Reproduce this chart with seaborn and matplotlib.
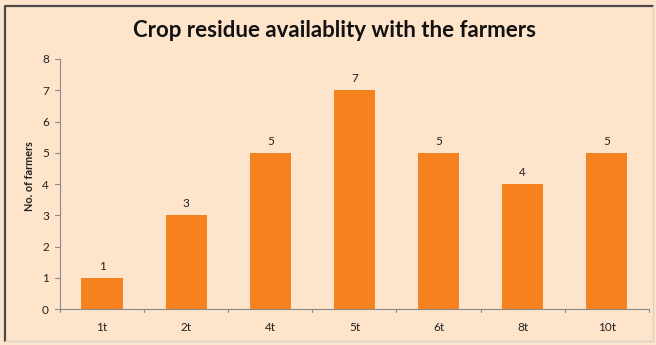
import matplotlib
matplotlib.use("Agg")
import matplotlib.pyplot as plt
import seaborn as sns
import pandas as pd
from matplotlib.lines import Line2D

categories = ["1t", "2t", "4t", "5t", "6t", "8t", "10t"]
farmers = [1, 3, 5, 7, 5, 4, 5]
y_ticks = [0, 1, 2, 3, 4, 5, 6, 7, 8]

bg = "#FDE4CA"
bar_color = "#F5821F"
text_color = "#222222"

sns.set_theme(style="white")
plt.rcParams["font.family"] = ["Lato", "DejaVu Sans"]

df = pd.DataFrame({"residue": categories, "farmers": farmers})

fig = plt.figure(figsize=(6.56, 3.45), dpi=100)
fig.patch.set_facecolor(bg)
ax = fig.add_axes([0.0915, 0.104, 0.8975, 0.725])
ax.set_facecolor(bg)

sns.barplot(data=df, x="residue", y="farmers", color=bar_color, width=0.49,
            saturation=1, linewidth=0, edgecolor=bar_color, ax=ax)

for i, v in enumerate(farmers):
    ax.text(i, v + 0.2, str(v), ha="center", va="bottom", fontsize=8.5,
            color=text_color)

ax.set_ylim(0, 8)
ax.set_xlim(-0.5, len(categories) - 0.5)
ax.set_yticks(y_ticks)
ax.set_xticks(range(len(categories)))
ax.set_xticklabels(categories)
ax.tick_params(axis="x", labelsize=8.5, colors=text_color, length=0, pad=9)
ax.tick_params(axis="y", labelsize=8.5, colors=text_color, length=0, pad=8)

# tick marks between categories on the x axis, and on the y axis
for b in [x - 0.5 for x in range(len(categories) + 1)]:
    ax.plot([b, b], [0, -0.1], color="#8a8a8a", lw=0.8, clip_on=False)
for t in y_ticks:
    ax.plot([-0.5, -0.5 - 0.06], [t, t], color="#8a8a8a", lw=0.8, clip_on=False)

for side in ["top", "right"]:
    ax.spines[side].set_visible(False)
for side in ["left", "bottom"]:
    ax.spines[side].set_color("#8a8a8a")
    ax.spines[side].set_linewidth(0.8)

ax.set_xlabel("")
ax.set_ylabel("No. of farmers", fontsize=7.8, fontweight="bold",
              color=text_color)
ax.yaxis.set_label_coords(-0.042, 0.53)

fig.text(0.51, 0.912, "Crop residue availablity with the farmers",
         ha="center", va="center", fontsize=16, fontweight="bold",
         color="#111111")

# outer frame: dark top/left edges, light bottom/right edges
x0, x1, y0, y1 = 0.008, 0.995, 0.012, 0.983
fig.add_artist(Line2D([x0, x0, x1], [y0, y1, y1], transform=fig.transFigure,
                      color="#4a4a4a", lw=1.6))
fig.add_artist(Line2D([x0, x1, x1], [y0, y0, y1], transform=fig.transFigure,
                      color="#d8d0c8", lw=1.0))

fig.savefig("out.png", dpi=100, facecolor=bg)
